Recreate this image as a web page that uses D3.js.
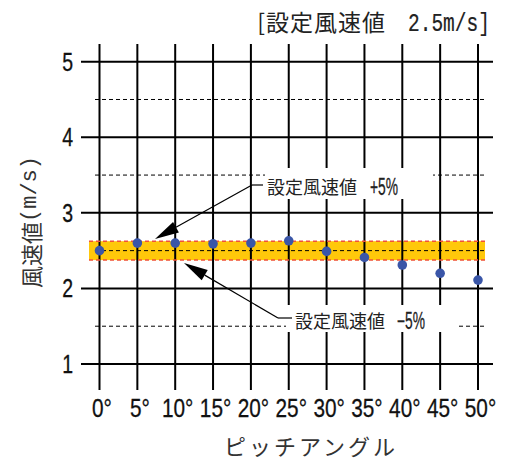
<!DOCTYPE html>
<html><head><meta charset="utf-8">
<script src="https://cdn.jsdelivr.net/npm/d3@7"></script>
<style>
html,body{margin:0;padding:0;background:#fff;}
svg{display:block;}
.num{font-family:"Liberation Sans",Arial,sans-serif;}
.mono{font-family:"Liberation Mono","DejaVu Sans Mono",monospace;}
.jp{font-family:"Noto Sans CJK JP","Noto Sans",sans-serif;}
</style>
</head><body>
<svg id="chart" width="512" height="462"></svg>
<script>
const angles = [0,5,10,15,20,25,30,35,40,45,50];
const angleLabels = ["0°","5°","10°","15°","20°","25°","30°","35°","40°","45°","50°"];
const windSpeed = [2.5,2.6,2.6,2.59,2.6,2.63,2.49,2.41,2.31,2.2,2.11];
const yTicks = [1,2,3,4,5];
const yHalfTicks = [1.5,2.5,3.5,4.5];
const setSpeed = 2.5;
const tolerance = 0.05;
const titleJp = "[設定風速値";
const titleNum = "2.5m/s]";
const xTitle = "ピッチアングル";
const yTitleJp = "風速値";
const yTitleUnit = "(m/s)";
const upperLabel = ["設定風速値", "+5%"];
const lowerLabel = ["設定風速値", "−5%"];

const svg = d3.select("#chart");
const x = d3.scaleLinear().domain([0,50]).range([99.5,478]);
const y = d3.scaleLinear().domain([1,5]).range([364,61.7]);

function narrow(g, xp, yp, txt, size, sx, anchor, cls, col){
  const c = col || "#111";
  return g.append("text").attr("class",cls || "num")
    .attr("transform",`translate(${xp},${yp}) scale(${sx},1)`)
    .attr("text-anchor",anchor).attr("font-size",size).attr("fill",c)
    .attr("stroke",c).attr("stroke-width",0.3).text(txt);
}

// band
const bandTop = y(setSpeed*(1+tolerance)), bandBot = y(setSpeed*(1-tolerance));
svg.append("rect").attr("x",89).attr("y",bandTop).attr("width",485-89).attr("height",bandBot-bandTop)
  .attr("fill","#FFC80A");

// vertical grid
svg.append("g").selectAll("line").data(angles).join("line")
  .attr("x1",d=>x(d)).attr("x2",d=>x(d)).attr("y1",44).attr("y2",390)
  .attr("stroke","#000").attr("stroke-width",2);
// horizontal grid
svg.append("g").selectAll("line").data(yTicks).join("line")
  .attr("x1",81).attr("x2",493).attr("y1",d=>y(d)).attr("y2",d=>y(d))
  .attr("stroke","#000").attr("stroke-width",2);
// dashed half lines
svg.append("g").selectAll("line").data(yHalfTicks).join("line")
  .attr("x1",95).attr("x2",485).attr("y1",d=>y(d)).attr("y2",d=>y(d))
  .attr("stroke","#000").attr("stroke-width",1).attr("stroke-dasharray","4,3");
// band edges red dashed
[setSpeed*(1+tolerance), setSpeed*(1-tolerance)].forEach(v=>{
  svg.append("line").attr("x1",89).attr("x2",485).attr("y1",y(v)).attr("y2",y(v))
    .attr("stroke","#F0503A").attr("stroke-width",1.5).attr("stroke-dasharray","4,3");
});

// label boxes
svg.append("rect").attr("x",265).attr("y",168).attr("width",168).attr("height",31).attr("fill","#fff");
svg.append("rect").attr("x",286).attr("y",305).attr("width",172).attr("height",27).attr("fill","#fff");

// arrows
function arrow(pts, tip){
  svg.append("polyline").attr("points",pts.map(p=>p.join(",")).join(" "))
    .attr("fill","none").attr("stroke","#000").attr("stroke-width",1.2);
  const [sx,sy] = pts[pts.length-1];
  const ang = Math.atan2(tip[1]-sy, tip[0]-sx);
  const L = 24, W = 6;
  const bx = tip[0]-L*Math.cos(ang), by = tip[1]-L*Math.sin(ang);
  const px = -Math.sin(ang)*W, py = Math.cos(ang)*W;
  svg.append("polygon").attr("points",[[tip[0],tip[1]],[bx+px,by+py],[bx-px,by-py]].map(p=>p.join(",")).join(" "))
    .attr("fill","#000");
  svg.append("line").attr("x1",sx).attr("y1",sy).attr("x2",bx).attr("y2",by).attr("stroke","#000").attr("stroke-width",1.2);
}
arrow([[263,185],[252,185]],[155,239]);
arrow([[292,318],[278,318]],[184,263]);

// annotation labels
svg.append("text").attr("class","jp").attr("x",267).attr("y",194).attr("font-size",18).attr("fill","#222").text(upperLabel[0]);
narrow(svg,370,195,upperLabel[1],23,0.6,"start","num","#222");
svg.append("text").attr("class","jp").attr("x",295).attr("y",328).attr("font-size",18).attr("fill","#222").text(lowerLabel[0]);
narrow(svg,397,329,lowerLabel[1],23,0.6,"start","num","#222");

// dots
svg.append("g").selectAll("circle").data(windSpeed).join("circle")
  .attr("cx",(d,i)=>x(angles[i])).attr("cy",d=>y(d)).attr("r",4.8).attr("fill","#3A56A8");

// y tick labels
const gy = svg.append("g");
yTicks.forEach(d=>narrow(gy,73,y(d)+9,String(d),25,0.78,"end"));
// x tick labels
const gx = svg.append("g");
angleLabels.forEach((d,i)=>narrow(gx,x(angles[i])+2.5,417,d,26,0.8,"middle"));

// title
svg.append("text").attr("class","jp").attr("x",386).attr("y",31).attr("text-anchor","end")
  .attr("font-size",23).attr("letter-spacing",1).attr("fill","#222").text(titleJp);
narrow(svg,408,31,titleNum,25,0.78,"start","mono","#222").attr("stroke-width",0.2);

// x title
svg.append("text").attr("class","jp").attr("x",311).attr("y",455).attr("text-anchor","middle")
  .attr("font-size",22).attr("letter-spacing",3).attr("fill","#333").text(xTitle);
// y title
const yt = svg.append("text").attr("transform","translate(30,222) rotate(-90)").attr("text-anchor","middle")
  .attr("dominant-baseline","central").attr("fill","#333");
yt.append("tspan").attr("class","jp").attr("font-size",22).text(yTitleJp);
yt.append("tspan").attr("class","mono").attr("font-size",22).text(yTitleUnit);
</script>
</body></html>
